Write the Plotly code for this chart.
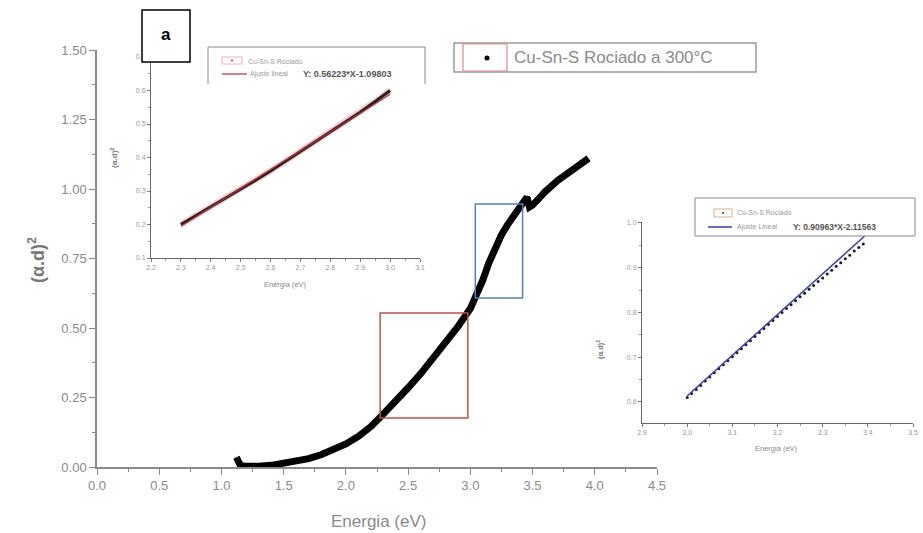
import plotly.graph_objects as go

W, H = 923, 533

# ---- main spectrum: (alpha*d)^2 versus photon energy ----
energy = [1.12, 1.13, 1.15, 1.18, 1.22, 1.30, 1.40, 1.50, 1.60, 1.70, 1.80, 1.90,
          2.00, 2.10, 2.20, 2.30, 2.40, 2.50, 2.60, 2.70, 2.80, 2.90, 3.00, 3.05,
          3.10, 3.15, 3.20, 3.25, 3.30, 3.35, 3.40, 3.43, 3.455, 3.475, 3.50,
          3.55, 3.60, 3.70, 3.80, 3.90, 3.95]
alpha_d2 = [0.035, 0.018, 0.008, 0.003, 0.002, 0.003, 0.006, 0.012, 0.020, 0.030,
            0.044, 0.061, 0.083, 0.110, 0.145, 0.190, 0.235, 0.285, 0.335, 0.390,
            0.445, 0.505, 0.570, 0.615, 0.672, 0.735, 0.790, 0.835, 0.872, 0.903,
            0.930, 0.950, 0.970, 0.935, 0.942, 0.965, 0.990, 1.030, 1.065, 1.095,
            1.110]
main_xticks = [0.0, 0.5, 1.0, 1.5, 2.0, 2.5, 3.0, 3.5, 4.0, 4.5]
main_yticks = [0.0, 0.25, 0.5, 0.75, 1.0, 1.25, 1.5]

# fitting windows marked on the main curve
red_win_x = [2.275, 2.98]
red_win_y = [0.176, 0.554]
blue_win_x = [3.04, 3.42]
blue_win_y = [0.608, 0.946]

# ---- inset 1: lower linear region ----
in1_energy = [2.30, 2.35, 2.40, 2.45, 2.50, 2.55, 2.60, 2.65, 2.70, 2.75, 2.80,
              2.85, 2.90, 2.95, 3.00]
in1_alpha_d2 = [0.200, 0.226, 0.252, 0.278, 0.305, 0.332, 0.360, 0.389, 0.418,
                0.446, 0.475, 0.505, 0.535, 0.567, 0.600]
fit1_slope, fit1_icpt = 0.56223, -1.09803
in1_xticks = [2.2, 2.3, 2.4, 2.5, 2.6, 2.7, 2.8, 2.9, 3.0, 3.1]
in1_yticks = [0.1, 0.2, 0.3, 0.4, 0.5, 0.6, 0.7]

# ---- inset 2: upper linear region ----
in2_energy = [3.00, 3.01, 3.02, 3.03, 3.04, 3.05, 3.06, 3.07, 3.08, 3.09,
              3.10, 3.11, 3.12, 3.13, 3.14, 3.15, 3.16, 3.17, 3.18, 3.19,
              3.20, 3.21, 3.22, 3.23, 3.24, 3.25, 3.26, 3.27, 3.28, 3.29,
              3.30, 3.31, 3.32, 3.33, 3.34, 3.35, 3.36, 3.37, 3.38, 3.39]
in2_alpha_d2 = [0.610, 0.619, 0.628, 0.637, 0.647, 0.656, 0.665, 0.674, 0.683, 0.692,
                0.701, 0.710, 0.719, 0.728, 0.737, 0.746, 0.755, 0.764, 0.773, 0.782,
                0.791, 0.800, 0.809, 0.817, 0.826, 0.835, 0.843, 0.852, 0.860, 0.869,
                0.877, 0.886, 0.894, 0.903, 0.911, 0.920, 0.928, 0.937, 0.945, 0.953]
fit2_slope, fit2_icpt = 0.90963, -2.11563
fit2_x = [3.00, 3.393]
in2_xticks = [2.9, 3.0, 3.1, 3.2, 3.3, 3.4, 3.5]
in2_yticks = [0.6, 0.7, 0.8, 0.9, 1.0]


def px(x):
    return x / W


def py(y):
    return 1 - y / H


GRAY = "#8a8a8a"
FONT = "Liberation Sans"

fig = go.Figure()

fig.add_trace(go.Scatter(x=energy, y=alpha_d2, mode="lines",
                         line=dict(color="black", width=7),
                         xaxis="x", yaxis="y", showlegend=False))

# inset 1 traces
fig.add_trace(go.Scatter(x=in1_energy, y=in1_alpha_d2, mode="lines",
                         line=dict(color="#f4c8cc", width=6),
                         xaxis="x2", yaxis="y2", showlegend=False))
fig.add_trace(go.Scatter(x=in1_energy, y=in1_alpha_d2, mode="lines",
                         line=dict(color="#222222", width=3),
                         xaxis="x2", yaxis="y2", showlegend=False))
fit1_x = [in1_energy[0], in1_energy[-1]]
fig.add_trace(go.Scatter(x=fit1_x, y=[fit1_slope * v + fit1_icpt for v in fit1_x],
                         mode="lines", line=dict(color="#b0303c", width=1.2),
                         xaxis="x2", yaxis="y2", showlegend=False))

# inset 2 traces
fig.add_trace(go.Scatter(x=in2_energy, y=in2_alpha_d2, mode="markers",
                         marker=dict(color="#1a1a2a", size=3),
                         xaxis="x3", yaxis="y3", showlegend=False))
fig.add_trace(go.Scatter(x=fit2_x, y=[fit2_slope * v + fit2_icpt for v in fit2_x],
                         mode="lines", line=dict(color="#3a3aa8", width=1.5),
                         xaxis="x3", yaxis="y3", showlegend=False))

main_axis = dict(showline=True, linecolor=GRAY, linewidth=1.5, showgrid=False,
                 zeroline=False, ticks="outside", ticklen=6, tickwidth=1.2,
                 automargin=False,
                 tickcolor=GRAY, tickfont=dict(family=FONT, size=13, color=GRAY))
inset_axis = dict(showline=True, linecolor="#666666", linewidth=1, showgrid=False,
                  zeroline=False, ticks="outside", ticklen=3, tickwidth=0.8,
                  automargin=False,
                  tickcolor="#777777", tickfont=dict(family=FONT, size=7, color="#999999"))

fig.update_layout(
    width=W, height=H, margin=dict(l=0, r=0, t=0, b=0),
    paper_bgcolor="white", plot_bgcolor="white", showlegend=False,
    xaxis=dict(main_axis, domain=[px(97), px(657)], range=[0, 4.5], anchor="y",
               tickvals=main_xticks, tickformat=".1f",
               minor=dict(ticks="outside", ticklen=3, dtick=0.25, tickcolor=GRAY)),
    yaxis=dict(main_axis, domain=[py(467), py(50)], range=[0, 1.5], anchor="x",
               tickvals=main_yticks, tickformat=".2f",
               minor=dict(ticks="outside", ticklen=3, dtick=0.125, tickcolor=GRAY)),
    xaxis2=dict(inset_axis, domain=[px(151), px(420)], range=[2.2, 3.1], anchor="y2",
                tickvals=in1_xticks, tickformat=".1f",
                minor=dict(ticks="outside", ticklen=2, dtick=0.05, tickcolor="#999")),
    yaxis2=dict(inset_axis, domain=[py(258), py(57)], range=[0.1, 0.7], anchor="x2",
                tickvals=in1_yticks, tickformat=".1f",
                minor=dict(ticks="outside", ticklen=2, dtick=0.05, tickcolor="#999")),
    xaxis3=dict(inset_axis, domain=[px(642), px(913)], range=[2.9, 3.5], anchor="y3",
                tickvals=in2_xticks, tickformat=".1f",
                minor=dict(ticks="outside", ticklen=2, dtick=0.05, tickcolor="#999")),
    yaxis3=dict(inset_axis, domain=[py(423), py(222)], range=[0.553, 1.002], anchor="x3",
                tickvals=in2_yticks, tickformat=".1f",
                minor=dict(ticks="outside", ticklen=2, dtick=0.05, tickcolor="#999")),
)

shapes = []
# fitting windows on the main curve
shapes.append(dict(type="rect", xref="x", yref="y", x0=red_win_x[0], x1=red_win_x[1],
                   y0=red_win_y[0], y1=red_win_y[1], line=dict(color="#c0504d", width=1.5)))
shapes.append(dict(type="rect", xref="x", yref="y", x0=blue_win_x[0], x1=blue_win_x[1],
                   y0=blue_win_y[0], y1=blue_win_y[1], line=dict(color="#4f81bd", width=1.5)))


def prect(x0, y0, x1, y1, **kw):
    return dict(type="rect", xref="paper", yref="paper",
                x0=px(x0), x1=px(x1), y0=py(y1), y1=py(y0), **kw)


# panel tag box
shapes.append(prect(142, 10, 190, 62, line=dict(color="black", width=1.5), fillcolor="white"))
# main legend
shapes.append(prect(454, 43, 756, 72, line=dict(color="#999999", width=1.5)))
shapes.append(prect(463, 44, 507, 71, line=dict(color="#e08a90", width=1.2)))
shapes.append(dict(type="circle", xref="paper", yref="paper",
                   x0=px(484.5), x1=px(489.5), y0=py(60.5), y1=py(55.5),
                   fillcolor="black", line=dict(color="black", width=0)))

# inset 1 legend (open at the bottom)
shapes.append(dict(type="path", xref="paper", yref="paper",
                   path=f"M {px(208)} {py(84)} L {px(208)} {py(47)} L {px(425)} {py(47)} L {px(425)} {py(84)}",
                   line=dict(color="#8a8a8a", width=1)))
shapes.append(prect(222, 57, 242, 64, line=dict(color="#e0a0a8", width=0.8)))
shapes.append(dict(type="circle", xref="paper", yref="paper",
                   x0=px(231), x1=px(233), y0=py(61.5), y1=py(59.5),
                   fillcolor="#b03040", line=dict(width=0)))
shapes.append(dict(type="line", xref="paper", yref="paper",
                   x0=px(222), x1=px(247), y0=py(74), y1=py(74),
                   line=dict(color="#b03040", width=1.2)))

# inset 2 legend
shapes.append(prect(695, 198, 915, 236, line=dict(color="#8a8a8a", width=1)))
shapes.append(prect(714, 209, 732, 217, line=dict(color="#d8a060", width=0.8)))
shapes.append(dict(type="circle", xref="paper", yref="paper",
                   x0=px(722), x1=px(724), y0=py(214), y1=py(212),
                   fillcolor="#333", line=dict(width=0)))
shapes.append(dict(type="line", xref="paper", yref="paper",
                   x0=px(708), x1=px(732), y0=py(227), y1=py(227),
                   line=dict(color="#3a3aa8", width=1.5)))

fig.update_layout(shapes=shapes)

annotations = []


def ptext(x, y, text, size, color=GRAY, xanchor="center", angle=0, bold=False):
    if bold:
        text = f"<b>{text}</b>"
    annotations.append(dict(x=px(x), y=py(y), xref="paper", yref="paper", text=text,
                            showarrow=False, xanchor=xanchor, yanchor="middle",
                            textangle=angle,
                            font=dict(family=FONT, size=size, color=color)))


ptext(166, 34, "a", 17, color="black", bold=True)
ptext(512, 58, "Cu-Sn-S Rociado a 300°C", 17, xanchor="left")
ptext(378, 521, "Energia (eV)", 17)
ptext(36, 260, "(α.d)<sup>2</sup>", 18, color="#777777", angle=-90, bold=True)

# inset 1 text
ptext(246, 61, "Cu-Sn-S Rociado", 7, color="#999", xanchor="left")
ptext(248, 74, "Ajuste lineal", 7, color="#999", xanchor="left")
ptext(301, 74, "Y: 0.56223*X-1.09803", 9, color="#555", xanchor="left", bold=True)
ptext(285, 284, "Energia (eV)", 7.5, color="#888")
ptext(114, 158, "(α.d)<sup>2</sup>", 8, color="#777", angle=-90, bold=True)

# inset 2 text
ptext(735, 213, "Cu-Sn-S Rociado", 7, color="#999", xanchor="left")
ptext(735, 227, "Ajuste Lineal", 7, color="#999", xanchor="left")
ptext(791, 227, "Y: 0.90963*X-2.11563", 8.5, color="#555", xanchor="left", bold=True)
ptext(776, 448, "Energia (eV)", 7.5, color="#888")
ptext(600, 350, "(α.d)<sup>2</sup>", 7.5, color="#777", angle=-90, bold=True)

fig.update_layout(annotations=annotations)

fig.write_html("out.html")
